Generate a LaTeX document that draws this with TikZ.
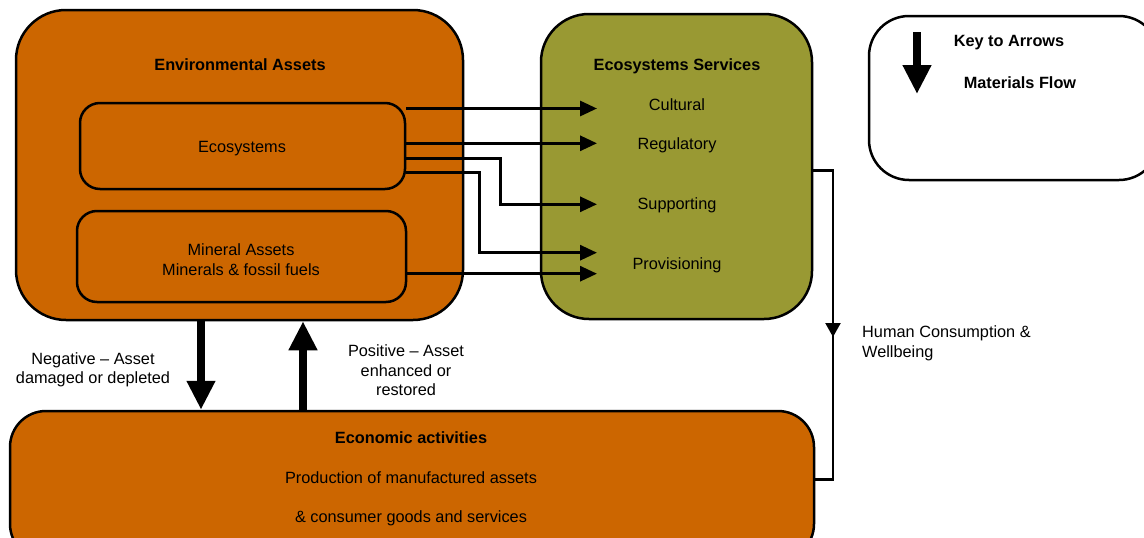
\documentclass[tikz,border=0pt]{standalone}
\usepackage{fontspec}
\setmainfont{Liberation Sans}
\usetikzlibrary{arrows.meta}
\definecolor{rust}{HTML}{CC6600}
\definecolor{olivebox}{HTML}{999933}
\begin{document}
\begin{tikzpicture}[x=1pt,y=-1pt,
  font=\fontsize{16.3}{19.5}\selectfont,
  box/.style={draw=black, line width=2.5pt, rectangle, inner sep=0pt},
  lbl/.style={inner sep=0pt, align=center, yshift=-1.8pt},
  bold/.style={font=\fontsize{16.3}{19.5}\selectfont\bfseries},
  flow/.style={line width=3pt, -{Triangle[length=17pt,width=15pt]}},
  thinline/.style={line width=2.2pt},
  bigarrow/.style={line width=8.5pt, -{Triangle[length=29pt,width=27pt]}}
]
\useasboundingbox (0,0) rectangle (1144,538);
\clip (0,0) rectangle (1144,538);

% boxes
\node[box, fill=rust, rounded corners=50pt, minimum width=447pt, minimum height=310pt] (env) at (239.5,165) {};
\node[box, fill=rust, rounded corners=20pt, minimum width=325pt, minimum height=86pt] (eco) at (242.5,146) {};
\node[box, fill=rust, rounded corners=20pt, minimum width=329pt, minimum height=91pt] (min) at (241.5,256.5) {};
\node[box, fill=olivebox, rounded corners=48pt, minimum width=271pt, minimum height=305pt] (ess) at (676.5,166.5) {};
\node[box, fill=white, rounded corners=40pt, minimum width=290pt, minimum height=164pt] (key) at (1014,98) {};
\node[box, fill=rust, rounded corners=36pt, minimum width=804pt, minimum height=149pt] (econ) at (412,485.5) {};

% texts
\node[lbl, bold] (envt) at (240,63) {Environmental Assets};
\node[lbl] (ecot) at (242,147) {Ecosystems};
\node[lbl] (mint) at (241,258) {Mineral Assets\\Minerals \& fossil fuels};
\node[lbl, bold] (esst) at (677,64) {Ecosystems Services};
\node[lbl] (cult) at (677,103) {Cultural};
\node[lbl] (regu) at (677,143) {Regulatory};
\node[lbl] (supp) at (677,203) {Supporting};
\node[lbl] (prov) at (677,263) {Provisioning};
\node[lbl, bold] (keyt) at (1009,41) {Key to Arrows};
\node[lbl, bold] (matt) at (1020,81) {Materials Flow};
\node[lbl, align=left, anchor=north west, font=\fontsize{16.3}{20}\selectfont] (hum) at (862,323.5) {Human Consumption \&\\Wellbeing};
\node[lbl] (neg) at (93,368) {Negative -- Asset\\damaged or depleted};
\node[lbl] (pos) at (406,368.5) {Positive -- Asset\\enhanced or\\restored};
\node[lbl, bold] (econt) at (411,436) {Economic activities};
\node[lbl] (prod) at (411,476) {Production of manufactured assets};
\node[lbl] (cons) at (411,516) {\& consumer goods and services};

% arrow end coordinates
\coordinate (tC) at (597,108.5);
\coordinate (tR) at (597,143.3);
\coordinate (tS) at (597,204.3);
\coordinate (tP) at (597,252.7);
\coordinate (tM) at (597,273.7);

% ecosystem service flows
\draw[flow] (eco.east |- tC) -- (tC);
\draw[flow] (eco.east |- tR) -- (tR);
\draw[flow] (eco.east |- 0,158.3) -- (500,158.3) -- (500,204.3) -- (tS);
\draw[flow] (eco.east |- 0,172.7) -- (479,172.7) -- (479,252.7) -- (tP);
\draw[flow] (min.east |- tM) -- (tM);

% human consumption loop
\coordinate (hc1) at (833,170.5);
\coordinate (hcm) at (833,337);
\coordinate (hc2) at (833,479.5);
\draw[thinline] (ess.east |- hc1) -- (hc1) -- (hc2) -- (econ.east |- hc2);
\draw[thinline, -{Triangle[length=14pt,width=15pt]}] (hc1) -- (hcm);

% big arrows between assets and economy
\draw[bigarrow] (env.south -| 201,0) -- (econ.north -| 201,0);
\draw[bigarrow] (econ.north -| 303,0) -- (env.south -| 303,0);

% key arrow
\coordinate (k1) at (917,32);
\coordinate (k2) at (917,94);
\draw[bigarrow] (k1) -- (k2);
\end{tikzpicture}
\end{document}
